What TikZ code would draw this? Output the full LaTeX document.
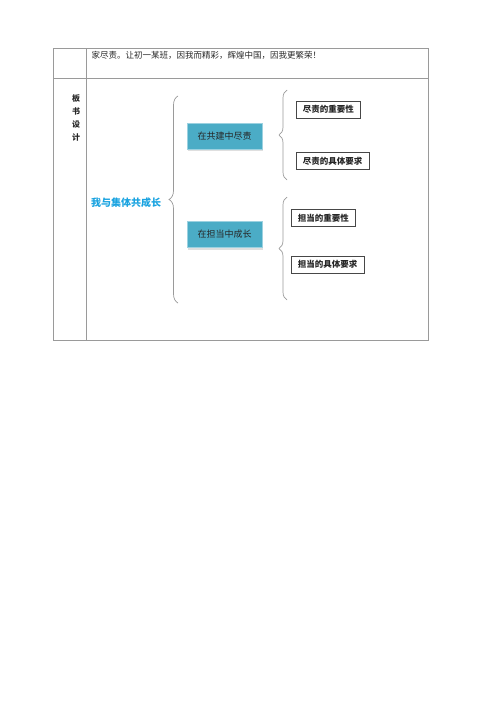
\documentclass[tikz,border=0pt]{standalone}
\usepackage{fontspec}
\setmainfont{Liberation Serif}
\newfontfamily\cjk{Noto Sans CJK SC}
\usepackage{tikz}
\usetikzlibrary{positioning, decorations.pathreplacing, shadows}
\definecolor{frame}{HTML}{9A9A9A}
\definecolor{title}{HTML}{1AA3E0}
\definecolor{topic}{HTML}{4BACC6}
\definecolor{ink}{HTML}{262626}

\begin{document}
\begin{tikzpicture}[x=1pt, y=-1pt,
      rule/.style={draw=frame, line width=0.8pt},
      topicbox/.style={rectangle, fill=topic, draw=topic!55!white,
        minimum width=75pt, minimum height=26pt, text=ink,
        font=\cjk\fontsize{9}{10}\selectfont,
        drop shadow={shadow xshift=1pt, shadow yshift=-2pt, fill=black!25}},
      pointbox/.style={rectangle, draw=ink!85, line width=0.6pt,
        minimum height=17pt, inner xsep=6.5pt, text=ink,
        font=\cjk\bfseries\fontsize{8.5}{10}\selectfont},
      bracelink/.style={decorate, decoration={brace, amplitude=#1},
        draw=frame, line width=0.7pt}]

    \useasboundingbox (0,0) rectangle (500,707);

    % table frame
    \draw[rule] (53,48) rectangle (428,340);
    \draw[rule] (53,78) -- (428,78);
    \draw[rule] (86,48) -- (86,340);

    \node[anchor=west, text=ink, font=\cjk\fontsize{8.5}{10}\selectfont]
      (intro) at (88,55) {家尽责。让初一某班，因我而精彩，辉煌中国，因我更繁荣！};
    \node[align=center, text=ink, font=\cjk\bfseries\fontsize{8}{13}\selectfont]
      (board) at (76,117.5) {板\\书\\设\\计};

    % board layout
    \node[text=title, font=\cjk\bfseries\fontsize{10}{12}\selectfont]
      (theme) at (126,203) {我与集体共成长};

    \node[topicbox] (duty) at (224.5,136) {在共建中尽责};
    \node[topicbox] (grow) at (224.5,234.5) {在担当中成长};

    \node[pointbox, anchor=west] (p1) at (296,109.5) {尽责的重要性};
    \node[pointbox, anchor=west] (p2) at (296,161) {尽责的具体要求};
    \node[pointbox, anchor=west] (p3) at (291,218) {担当的重要性};
    \node[pointbox, anchor=west] (p4) at (291,264.5) {担当的具体要求};

    \coordinate (b1top) at (178,96);
    \coordinate (b1bot) at (178,303);
    \coordinate (b2top) at (287,90);
    \coordinate (b2bot) at (287,180);
    \coordinate (b3top) at (287,197);
    \coordinate (b3bot) at (287,300);

    \draw[bracelink=9pt] (b1bot) -- (b1top);
    \draw[bracelink=8pt] (b2bot) -- (b2top);
    \draw[bracelink=8pt] (b3bot) -- (b3top);
  \end{tikzpicture}
\end{document}
